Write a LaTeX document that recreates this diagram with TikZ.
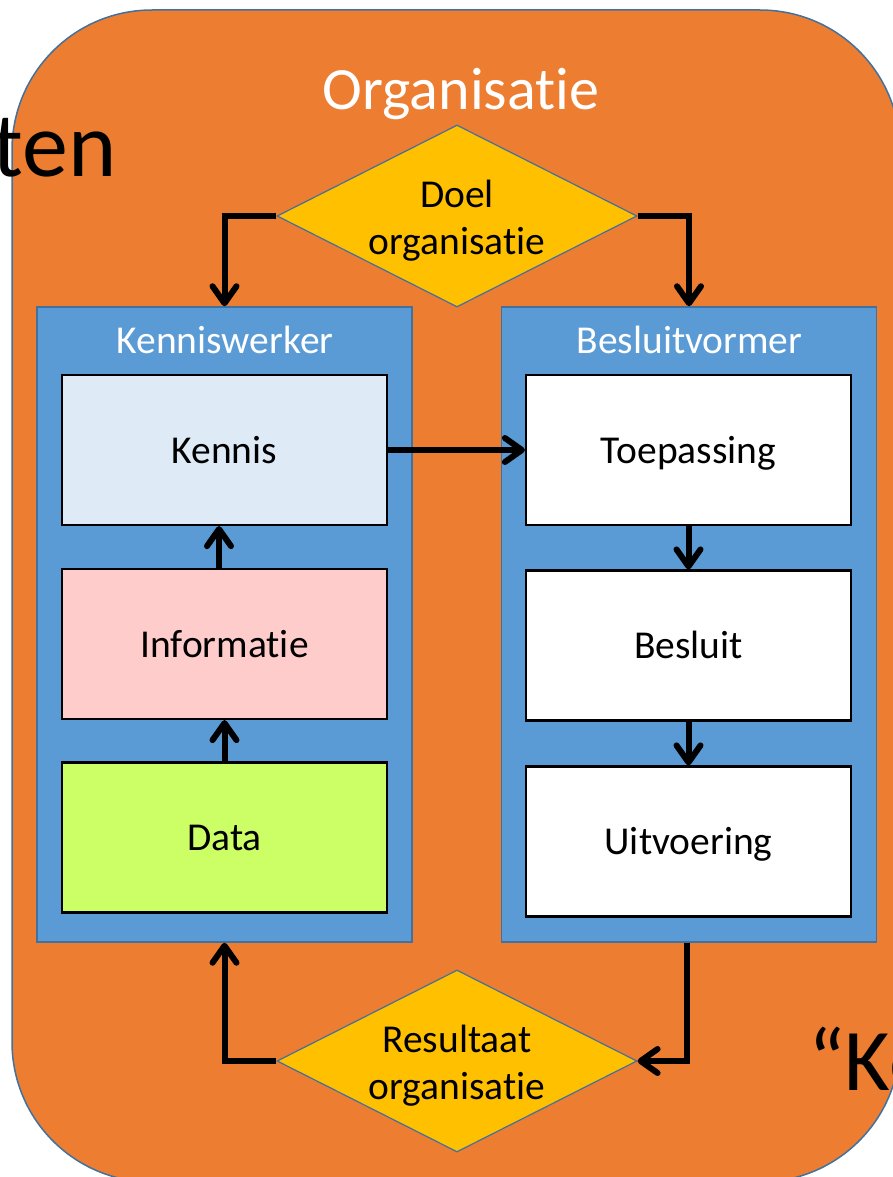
\documentclass[tikz,border=0pt]{standalone}
\usepackage{fontspec}
\setmainfont{Carlito}[Ligatures={NoCommon,NoRequired,NoContextual}]
\usetikzlibrary{arrows.meta,shapes.geometric}
\definecolor{org}{HTML}{ED7D31}
\definecolor{blu}{HTML}{5B9BD5}
\definecolor{bdr}{HTML}{41719C}
\definecolor{gold}{HTML}{FFC000}
\definecolor{kenn}{HTML}{DEEBF7}
\definecolor{infoc}{HTML}{FFCCCC}
\definecolor{datc}{HTML}{CCFF66}
\begin{document}
\begin{tikzpicture}[x=1pt,y=-1pt,
  container/.style={rectangle, draw=bdr, line width=1.5pt, fill=blu, minimum width=375pt, minimum height=635pt, inner sep=0pt},
  stepbox/.style={rectangle, draw=black, line width=2.2pt, minimum width=325pt, minimum height=150pt, inner sep=0pt, text height=26.5pt, text depth=0pt, font=\fontsize{39.5}{48}\selectfont},
  dia/.style={diamond, draw=bdr, line width=1.2pt, fill=gold, minimum width=360pt, minimum height=182pt, inner sep=0pt},
  dtext/.style={align=center, inner sep=0pt, font=\fontsize{39.5}{47}\selectfont},
  clabel/.style={text=white, anchor=base, inner sep=0pt, font=\fontsize{39.5}{48}\selectfont},
  arr/.style={line width=6pt, -{Straight Barb[length=17pt,width=24pt,round]}},
]
\useasboundingbox (0,0) rectangle (893,1177);
\clip (0,0) rectangle (893,1177);
% organisation background
\draw[draw=bdr, line width=1.5pt, fill=org, rounded corners=140pt] (12,10) rectangle (900,1182);
\node[text=white, anchor=base, inner sep=0pt, font=\fontsize{60}{72}\selectfont] (orgl) at (461,110) {Organisatie};
% containers
\node[container] (kw) at (224.5,624.5) {};
\node[container] (bv) at (689,624.5) {};
\node[clabel] (kwl) at (225,353) {Kenniswerker};
\node[clabel] (bvl) at (689.5,353) {Besluitvormer};
% boxes
\node[stepbox, fill=kenn] (kennis) at (224.5,450) {Kennis};
\node[stepbox, fill=infoc] (info) at (224.5,644) {Informatie};
\node[stepbox, fill=datc] (data) at (224.5,837.5) {Data};
\node[stepbox, fill=white] (toep) at (688.5,450) {Toepassing};
\node[stepbox, fill=white] (besl) at (688.5,645.5) {Besluit};
\node[stepbox, fill=white] (uitv) at (688.5,841.5) {Uitvoering};
% diamonds
\node[dia] (doel) at (457,216) {};
\node[dtext] (doelt) at (457,221) {Doel\\organisatie};
\node[dia] (res) at (457,1061) {};
\node[dtext] (rest) at (457,1066) {Resultaat\\organisatie};
% arrows
\draw[arr] (doel.west) -| (kw.north);
\draw[arr] (doel.east) -| (bv.north);
\draw[arr] (kennis.east) -- (toep.west);
\draw[arr] ([xshift=-5.5pt]info.north) -- ([xshift=-5.5pt]kennis.south);
\draw[arr] (data.north) -- (info.south);
\draw[arr] (toep.south) -- (besl.north);
\draw[arr] (besl.south) -- (uitv.north);
\draw[arr] ([xshift=-2pt]bv.south) |- (res.east);
\draw[arr] (res.west) -| (kw.south);
% cut-off background texts
\node[anchor=base east, inner sep=0pt, font=\fontsize{92}{110}\selectfont] (tent) at (117,177) {ten};
\node[anchor=base west, inner sep=0pt, font=\fontsize{88}{105}\selectfont] (kot) at (808,1090) {“Ke};
\end{tikzpicture}
\end{document}
